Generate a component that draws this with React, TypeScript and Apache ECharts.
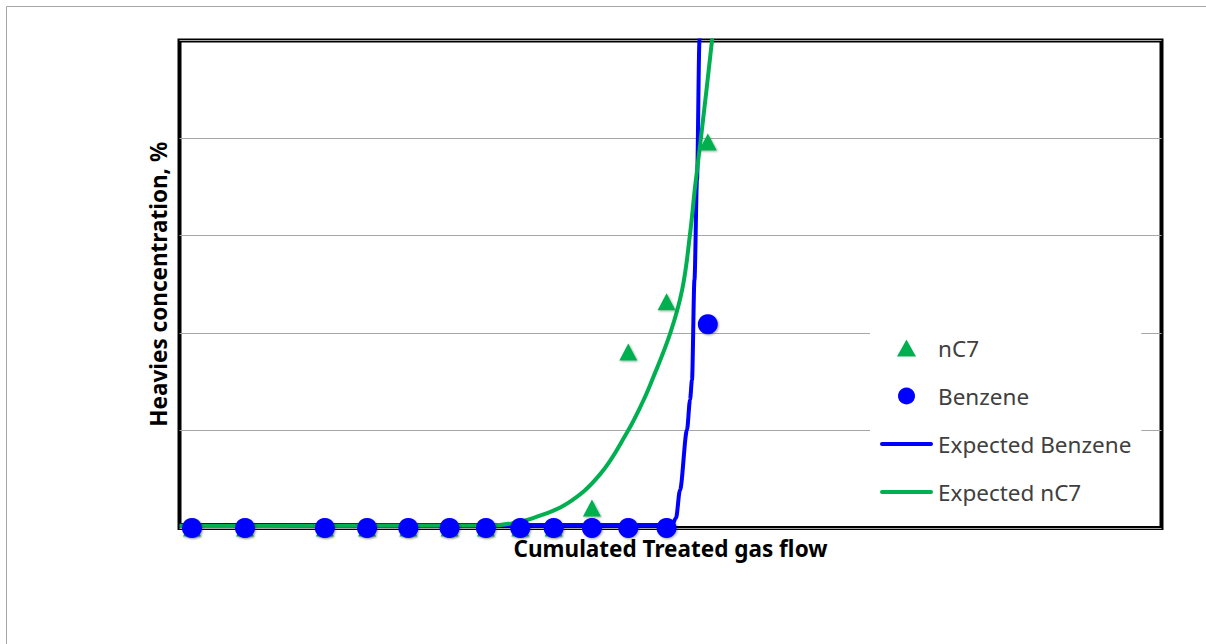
import React, { useEffect, useRef } from "react";
import * as echarts from "echarts";

// Measured positions (arbitrary units, 0..100 on both axes; no tick labels in the original)
const sampleX = [1.27, 6.67, 14.8, 19.1, 23.3, 27.5, 31.2, 34.7, 38.1, 42.0, 45.7, 49.6, 53.8];
const benzeneY = [0, 0, 0, 0, 0, 0, 0, 0, 0, 0, 0, 0, 41.8];
const nc7Y = [0, 0, 0, 0, 0, 0, 0, 0, 0, 4.1, 36.1, 46.4, 79.2];

const expBenzeneX = [0, 50.15, 50.56, 50.97, 51.68, 51.99, 52.19, 52.44, 52.7, 52.95, 53.0];
const expBenzeneY = [0.6, 0.6, 2.05, 7.8, 20.1, 26.3, 30.4, 50.9, 71.4, 99.9, 106];

const expNC7X = [0, 31.6, 33.97, 36.0, 39.46, 42.82, 45.57, 47.2, 48.1, 49.95, 51.2, 52.0, 52.5, 53.1, 54.22, 54.4];
const expNC7Y = [0.4, 0.5, 1.0, 2.05, 5.0, 11.0, 19.6, 26.0, 30.2, 39.8, 49.0, 60.5, 70.0, 80.0, 99.9, 104];

const seriesNames = ["nC7", "Benzene", "Expected Benzene", "Expected nC7"];
const xTitle = "Cumulated Treated gas flow";
const yTitle = "Heavies concentration, %";

const zip = (xs: number[], ys: number[]) => xs.map((x, i) => [x, ys[i]]);

const triangleIcon = "path://M0,17 L9.5,0 L19,17 Z";
const lineIcon = "path://M2,0 L51,0 A2,2 0 0 1 51,4 L2,4 A2,2 0 0 1 2,0 Z";

export default function App() {
  const ref = useRef<HTMLDivElement>(null);
  useEffect(() => {
    if (!ref.current) return;
    const chart = echarts.init(ref.current, undefined, { renderer: "svg" });
    const shadow = {
      shadowColor: "rgba(0,0,0,0.35)",
      shadowBlur: 2,
      shadowOffsetX: 1,
      shadowOffsetY: 1,
    };
    chart.setOption({
      animation: false,
      backgroundColor: "#ffffff",
      textStyle: { fontFamily: "Noto Sans" },
      graphic: [
        {
          type: "rect",
          shape: { x: 6.5, y: 6.5, width: 1400, height: 800 },
          style: { fill: "none", stroke: "#a6a6a6", lineWidth: 1 },
          silent: true,
          z: -10,
        },
      ],
      grid: {
        left: 179.5,
        top: 40.5,
        width: 982,
        height: 487.5,
        show: true,
        borderColor: "#000000",
        borderWidth: 4,
        backgroundColor: "transparent",
      },
      legend: {
        orient: "vertical",
        left: 870,
        top: 326,
        padding: 10,
        backgroundColor: "#ffffff",
        itemWidth: 53,
        itemHeight: 17,
        itemGap: 24,
        symbolKeepAspect: true,
        data: [
          { name: seriesNames[0], icon: triangleIcon },
          { name: seriesNames[1], icon: "circle" },
          { name: seriesNames[2], icon: lineIcon },
          { name: seriesNames[3], icon: lineIcon },
        ],
        textStyle: {
          fontFamily: "Noto Sans",
          fontSize: 22.5,
          color: "#404040",
          lineHeight: 24,
        },
        z: 10,
      },
      xAxis: {
        type: "value",
        min: 0,
        max: 100,
        name: xTitle,
        nameLocation: "middle",
        nameGap: 9,
        nameTextStyle: { fontFamily: "Noto Sans", fontWeight: "bold", fontSize: 22.5, color: "#000000" },
        axisLine: { show: false },
        axisTick: { show: false },
        axisLabel: { show: false },
        splitLine: { show: false },
      },
      yAxis: {
        type: "value",
        min: 0,
        max: 100,
        interval: 20,
        name: yTitle,
        nameLocation: "middle",
        nameRotate: 90,
        nameGap: 10,
        nameTextStyle: { fontFamily: "Noto Sans", fontWeight: "bold", fontSize: 22.5, color: "#000000" },
        axisLine: { show: false },
        axisTick: { show: false },
        axisLabel: { show: false },
        splitLine: { show: true, lineStyle: { color: "#a6a6a6", width: 1 } },
      },
      series: [
        {
          name: seriesNames[2],
          type: "line",
          data: zip(expBenzeneX, expBenzeneY),
          symbol: "none",
          smooth: 0.3,
          smoothMonotone: "x",
          lineStyle: { color: "#0000ff", width: 4 },
          itemStyle: { color: "#0000ff" },
          clip: true,
          z: 2,
        },
        {
          name: seriesNames[3],
          type: "line",
          data: zip(expNC7X, expNC7Y),
          symbol: "none",
          smooth: 0.4,
          lineStyle: { color: "#00b050", width: 4 },
          itemStyle: { color: "#00b050" },
          clip: true,
          z: 3,
        },
        {
          name: seriesNames[0],
          type: "scatter",
          data: zip(sampleX, nc7Y),
          symbol: "triangle",
          symbolSize: [18, 17],
          itemStyle: { color: "#00b050", opacity: 1, ...shadow },
          clip: false,
          z: 4,
        },
        {
          name: seriesNames[1],
          type: "scatter",
          data: zip(sampleX, benzeneY),
          symbol: "circle",
          symbolSize: 20,
          itemStyle: { color: "#0000ff", opacity: 1, ...shadow },
          clip: false,
          z: 5,
        },
      ],
    });
    return () => chart.dispose();
  }, []);
  return (
    <div
      ref={ref}
      style={{ position: "absolute", left: 0, top: 0, width: 1206, height: 644 }}
    />
  );
}
